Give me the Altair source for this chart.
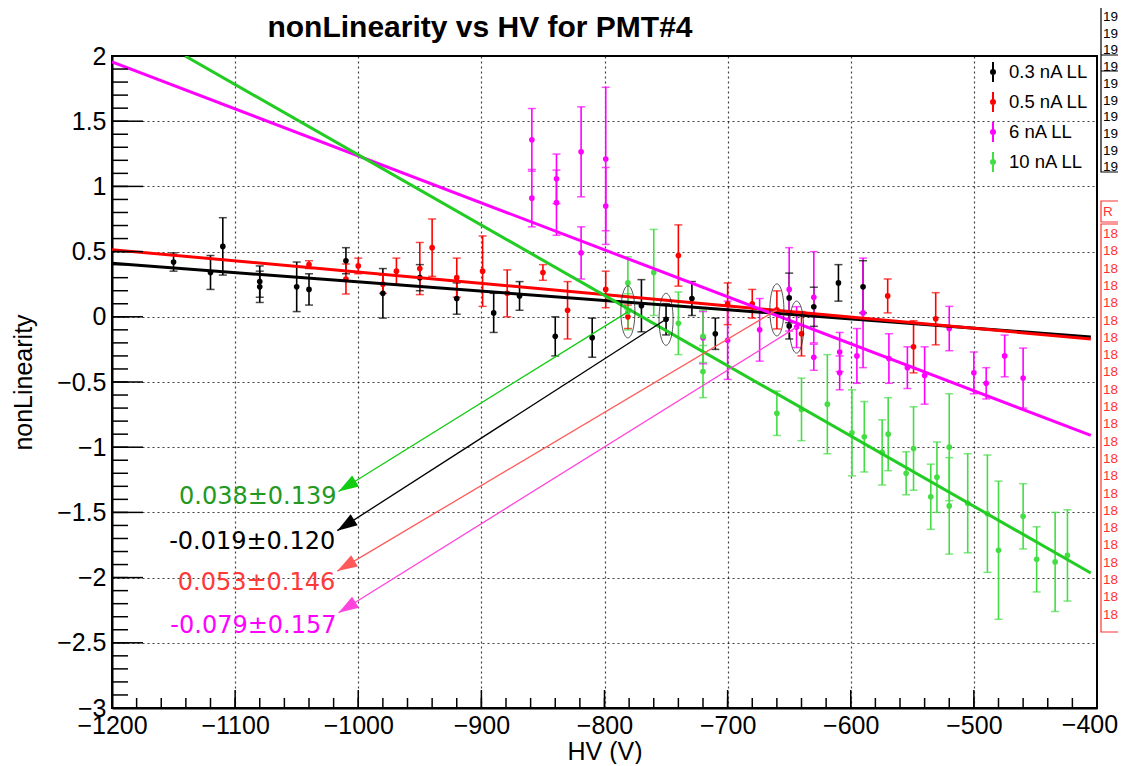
import math
import altair as alt
import pandas as pd

FONT = "Liberation Sans"

# ---------------- data ----------------
series_names = ["0.3 nA LL", "0.5 nA LL", "6 nA LL", "10 nA LL"]
bar_colors = ["#000000", "#ff0000", "#ff00ff", "#44dd44"]
fit_colors = ["#000000", "#ff0000", "#ff00ff", "#22cc22"]

hv_03 = [-1150, -1120, -1110, -1080, -1080, -1050, -1040, -1010, -980, -950, -920, -890, -869, -840,
         -810, -770, -750, -729, -710, -650, -650, -630, -610, -590]
val_03 = [0.42, 0.34, 0.54, 0.27, 0.23, 0.23, 0.21, 0.43, 0.18, 0.30, 0.14, 0.03, 0.16, -0.15,
          -0.16, 0.085, -0.019, 0.14, -0.13, 0.145, -0.07, 0.077, 0.26, 0.23]
err_03 = [0.07, 0.13, 0.22, 0.12, 0.12, 0.19, 0.12, 0.10, 0.19, 0.10, 0.12, 0.15, 0.11, 0.15,
          0.15, 0.20, 0.12, 0.13, 0.12, 0.19, 0.10, 0.15, 0.14, 0.20]

hv_05 = [-1040, -1010, -1000, -980, -969, -950, -940, -920, -899, -879, -850, -830, -799, -781,
         -740, -700, -680, -660, -640, -570, -549, -531]
val_05 = [0.40, 0.29, 0.39, 0.25, 0.35, 0.37, 0.53, 0.30, 0.35, 0.18, 0.34, 0.05, 0.21, 0.0,
          0.47, 0.10, 0.10, 0.053, -0.13, 0.16, -0.23, -0.015]
err_05 = [0.03, 0.115, 0.06, 0.07, 0.10, 0.20, 0.22, 0.15, 0.27, 0.18, 0.06, 0.22, 0.14, 0.09,
          0.235, 0.16, 0.11, 0.146, 0.17, 0.13, 0.20, 0.20]

hv_6 = [-859, -859, -839, -839, -819, -819, -799, -799, -720, -700, -674, -650, -644, -630, -630,
        -609, -609, -595, -590, -569, -554, -540, -520, -500, -490, -475, -460]
val_6 = [1.357, 0.91, 1.058, 0.875, 1.265, 0.49, 1.21, 0.85, -0.16, -0.18, -0.10, 0.21, -0.079, 0.15, -0.31,
         -0.27, -0.43, -0.30, 0.03, -0.32, -0.39, -0.45, -0.09, -0.43, -0.51, -0.30, -0.47]
err_6 = [0.24, 0.22, 0.19, 0.25, 0.345, 0.20, 0.55, 0.295, 0.20, 0.30, 0.24, 0.32, 0.157, 0.35, 0.10,
         0.15, 0.13, 0.21, 0.42, 0.19, 0.16, 0.22, 0.17, 0.16, 0.12, 0.16, 0.23]

hv_10 = [-781, -781, -760, -740, -720, -720, -660, -640, -619, -599, -589, -574.5, -569.6, -555, -549,
         -535, -530, -520, -520, -505, -489, -480, -460, -449, -434, -424]
val_10 = [0.26, 0.038, 0.34, -0.05, -0.15, -0.42, -0.74, -0.71, -0.67, -0.89, -0.92, -1.04, -0.90, -1.20, -1.01,
          -1.38, -1.23, -1.00, -1.45, -1.43, -1.51, -1.79, -1.53, -1.86, -1.88, -1.83]
err_10 = [0.20, 0.139, 0.33, 0.24, 0.20, 0.20, 0.17, 0.24, 0.38, 0.33, 0.27, 0.25, 0.28, 0.165, 0.32,
          0.25, 0.27, 0.41, 0.37, 0.38, 0.45, 0.53, 0.25, 0.25, 0.38, 0.35]

# linear fits: end points of each drawn line (HV, value)
fit_hv_03 = [-1200, -405]
fit_03 = [0.41, -0.155]
fit_hv_05 = [-1200, -405]
fit_05 = [0.515, -0.17]
fit_hv_6 = [-1200, -405]
fit_6 = [1.955, -0.91]
fit_hv_10 = [-1140.6, -405]
fit_10 = [2.0, -1.965]

# annotations (arrows from the marked point to the text)
ann_text = ["0.038±0.139", "-0.019±0.120", "0.053±0.146", "-0.079±0.157"]
ann_hv = [-781, -750, -660, -644]
ann_val = [0.038, -0.019, 0.053, -0.079]
ann_tip_hv = [-1016, -1017, -1017, -1016]
ann_tip_val = [-1.34, -1.64, -1.95, -2.27]
ann_text_val = [-1.38, -1.73, -2.04, -2.37]
ann_line_colors = ["#11cc11", "#000000", "#ff5a5a", "#ff44dd"]
ann_text_colors = ["#229922", "#000000", "#ff3838", "#ff00ff"]

# fragments of the statistics boxes cut off at the right edge
stat_black_rows = ["19"] * 10
stat_red_head = "R"
stat_red_rows = ["18"] * 23

title_text = "nonLinearity vs HV for PMT#4"

x_major = list(range(-1200, -399, 100))
x_label_vals = list(range(-1200, -499, 100))   # -400 is written separately (kept inside the page)
x_last_label = [-400]
x_minor = list(range(-1200, -399, 20))
y_major = [v / 2 for v in range(-6, 5)]
y_minor = [v / 10 for v in range(-30, 21)]

# ---------------- tables ----------------
W, H = 985, 652
XD = [-1200, -400]
YD = [-3, 2]

rows = []
for name, hv, val, err in zip(series_names, [hv_03, hv_05, hv_6, hv_10],
                              [val_03, val_05, val_6, val_10], [err_03, err_05, err_6, err_10]):
    for h, v, e in zip(hv, val, err):
        rows.append({"series": name, "hv": h, "val": v, "lo": v - e, "hi": v + e})
df = pd.DataFrame(rows)

fit_rows = []
for name, fh, fv in zip(series_names, [fit_hv_03, fit_hv_05, fit_hv_6, fit_hv_10],
                        [fit_03, fit_05, fit_6, fit_10]):
    for h, v in zip(fh, fv):
        fit_rows.append({"series": name, "hv": h, "val": v})
fit_df = pd.DataFrame(fit_rows)

ann_rows = []
for i in range(4):
    dxp = (ann_tip_hv[i] - ann_hv[i]) * W / (XD[1] - XD[0])
    dyp = -(ann_tip_val[i] - ann_val[i]) * H / (YD[1] - YD[0])
    ang = math.degrees(math.atan2(dxp, -dyp)) % 360
    ann_rows.append({"k": i, "text": ann_text[i], "hv": ann_hv[i], "val": ann_val[i],
                     "thv": ann_tip_hv[i], "tval": ann_tip_val[i], "txval": ann_text_val[i],
                     "ang": ang})
ann_df = pd.DataFrame(ann_rows)

xs = alt.Scale(domain=XD, nice=False, zero=False)
ys = alt.Scale(domain=YD, nice=False, zero=False)
cscale = alt.Scale(domain=series_names, range=bar_colors)
fscale = alt.Scale(domain=series_names, range=fit_colors)

ARROW = "M0,0L-0.65,2L0.65,2Z"
ELLIPSE = "M-0.27,0A0.27,1,0,1,0,0.27,0A0.27,1,0,1,0,-0.27,0"
LEG_SYM = "M0,-1L0,1M-0.2,0A0.2,0.2,0,1,0,0.2,0A0.2,0.2,0,1,0,-0.2,0"

x_axis = alt.Axis(values=x_label_vals, format="d", title="HV (V)", labelPadding=5, titlePadding=1)
y_axis = alt.Axis(values=y_major, format="~g", title="nonLinearity", labelPadding=6, titlePadding=20)


def X(field):
    return alt.X(field, type="quantitative", scale=xs, axis=x_axis)


def Y(field):
    return alt.Y(field, type="quantitative", scale=ys, axis=y_axis)


# ---------------- layers ----------------
bars = alt.Chart(df).mark_rule(strokeWidth=1.6).encode(
    x=X("hv"), y=Y("lo"), y2="hi:Q",
    color=alt.Color("series:N", scale=cscale, legend=alt.Legend(
        title=None, orient="none", legendX=870, legendY=5, padding=0,
        symbolType=LEG_SYM, symbolSize=400, symbolStrokeWidth=2,
        labelFont=FONT, labelFontSize=18.5, labelColor="black", labelOffset=5,
        rowPadding=2)),
)
caps_lo = alt.Chart(df).mark_tick(orient="horizontal", size=8, thickness=1.5).encode(
    x=X("hv"), y=Y("lo"), color=alt.Color("series:N", scale=cscale, legend=None))
caps_hi = alt.Chart(df).mark_tick(orient="horizontal", size=8, thickness=1.5).encode(
    x=X("hv"), y=Y("hi"), color=alt.Color("series:N", scale=cscale, legend=None))
pts = alt.Chart(df).mark_circle(size=32, opacity=1).encode(
    x=X("hv"), y=Y("val"), fill=alt.Fill("series:N", scale=cscale, legend=None))
fits = alt.Chart(fit_df).mark_line(strokeWidth=3, clip=True).encode(
    x=X("hv"), y=Y("val"), detail="series:N",
    stroke=alt.Stroke("series:N", scale=fscale, legend=None))

ann_layers = []
ann_base = alt.Chart(ann_df)
for i in range(4):
    sel = ann_base.transform_filter(alt.datum.k == i)
    ann_layers.append(sel.mark_rule(strokeWidth=1.3, color=ann_line_colors[i]).encode(
        x=X("hv"), y=Y("val"), x2="thv:Q", y2="tval:Q"))
    ann_layers.append(sel.mark_point(shape=ARROW, size=400, filled=True, opacity=1, strokeWidth=0,
                                     color=ann_line_colors[i]).encode(
        x=X("thv"), y=Y("tval"), angle=alt.Angle("ang:Q", scale=None)))
    ann_layers.append(sel.mark_text(font="DejaVu Sans", fontSize=24, align="right", baseline="middle",
                                    dx=-2, color=ann_text_colors[i]).encode(
        x=X("thv"), y=Y("txval"), text="text:N"))
ellipses = ann_base.mark_point(shape=ELLIPSE, size=2704, filled=False, color="#222222",
                               strokeWidth=1, opacity=0.8).encode(x=X("hv"), y=Y("val"))

# inward tick marks of the frame
xmaj = alt.Chart(pd.DataFrame({"t": x_major})).mark_rule(color="black", strokeWidth=1.5).encode(
    x=X("t"), y=alt.value(H), y2=alt.value(H - 18))
xmin = alt.Chart(pd.DataFrame({"t": x_minor})).mark_rule(color="black", strokeWidth=1.5).encode(
    x=X("t"), y=alt.value(H), y2=alt.value(H - 10))
ymaj = alt.Chart(pd.DataFrame({"t": y_major})).mark_rule(color="black", strokeWidth=1.5).encode(
    y=Y("t"), x=alt.value(0), x2=alt.value(31))
ymin = alt.Chart(pd.DataFrame({"t": y_minor})).mark_rule(color="black", strokeWidth=1.5).encode(
    y=Y("t"), x=alt.value(0), x2=alt.value(16))
grid_last = alt.Chart(pd.DataFrame({"t": x_last_label})).mark_text(
    font=FONT, fontSize=25, align="center", baseline="top", dx=-7, dy=5, color="black").encode(
    x=X("t"), y=alt.value(H), text=alt.Text("t:Q", format="d"))

# title (drawn as text above the frame)
one = alt.Chart(pd.DataFrame({"title": [title_text]}))
title_mark = one.mark_text(font=FONT, fontSize=30, fontWeight="bold", align="center",
                           baseline="alphabetic", color="black").encode(
    x=alt.value(368), y=alt.value(-19), text="title:N")

# cut-off statistics boxes at the right edge (multi-line text from lists)
stat_df = pd.DataFrame({"b": [stat_black_rows], "r": [stat_red_rows], "h": [stat_red_head]})
stat = alt.Chart(stat_df)
stat_layers = [
    stat.mark_rect(fill="white", stroke="black", strokeWidth=1.2).encode(
        x=alt.value(989), x2=alt.value(1040), y=alt.value(-60), y2=alt.value(116)),
    stat.mark_rule(color="black", strokeWidth=1.2).encode(
        x=alt.value(989), x2=alt.value(1040), y=alt.value(-1)),
    stat.mark_rule(color="black", strokeWidth=1.2).encode(
        x=alt.value(989), x2=alt.value(1040), y=alt.value(15)),
    stat.mark_text(font=FONT, fontSize=13.5, align="left", baseline="top", lineHeight=16.7,
                   color="black").encode(x=alt.value(991), y=alt.value(-46), text="b"),
    stat.mark_rect(fill="white", stroke="#ff3333", strokeWidth=1.2).encode(
        x=alt.value(989), x2=alt.value(1040), y=alt.value(145), y2=alt.value(166)),
    stat.mark_text(font=FONT, fontSize=13.5, align="left", baseline="middle",
                   color="#ff3333").encode(x=alt.value(991), y=alt.value(156), text="h:N"),
    stat.mark_rect(fill="white", stroke="#ff3333", strokeWidth=1.2).encode(
        x=alt.value(989), x2=alt.value(1040), y=alt.value(168), y2=alt.value(576)),
    stat.mark_text(font=FONT, fontSize=13.5, align="left", baseline="top", lineHeight=17.3,
                   color="#ff3333").encode(x=alt.value(991), y=alt.value(171), text="r"),
]

chart = alt.layer(
    bars, caps_lo, caps_hi, pts, fits, xmaj, xmin, ymaj, ymin, grid_last, ellipses, *ann_layers,
    title_mark, *stat_layers
).properties(
    width=W, height=H,
    autosize=alt.AutoSizeParams(type="none"),
    padding={"left": 104, "top": 48, "right": 21, "bottom": 56},
).configure_view(
    stroke="black", strokeWidth=2
).configure_axis(
    grid=True, gridColor="black", gridDash=[2, 3], gridWidth=1.2, gridOpacity=0.75,
    domainColor="black", domainWidth=2, ticks=False,
    labelFont=FONT, labelFontSize=25, labelColor="black", labelFlush=False, labelOverlap=False,
    titleFont=FONT, titleFontSize=25, titleFontWeight="normal", titleColor="black",
)

chart.save("out.html", embed_options={"renderer": "svg", "actions": False})
